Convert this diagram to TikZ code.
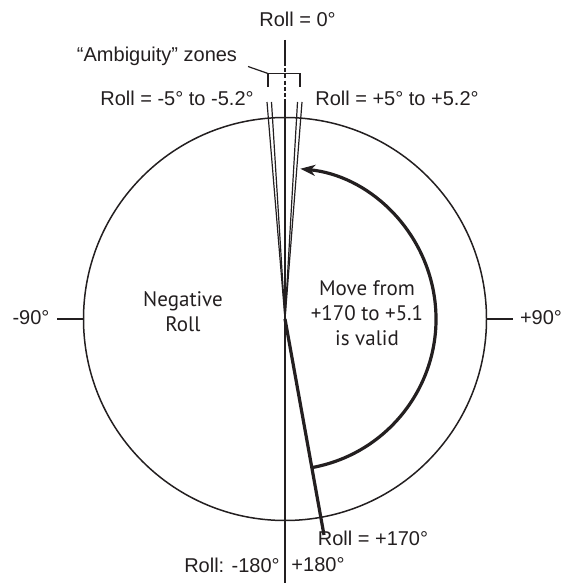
\documentclass[tikz,border=0pt]{standalone}
\usepackage{fontspec}
\setmainfont{Liberation Sans}
\newfontfamily\myriad{PT Sans}
\usetikzlibrary{arrows.meta,calc}
\definecolor{ink}{HTML}{231F20}
\begin{document}
\begin{tikzpicture}[x=0.5pt,y=-0.5pt,
  lbl/.style={font=\fontsize{10}{12}\selectfont, text=ink, inner sep=0pt},
  mlbl/.style={font=\myriad\fontsize{10.5}{12.5}\selectfont, text=ink, inner sep=0pt, align=center},
  thinline/.style={draw=ink, line width=0.6pt},
  thickline/.style={draw=ink, line width=1.6pt},
  ring/.style={draw=ink, line width=0.75pt}]
\useasboundingbox (0,0) rectangle (563,583);
% key points
\coordinate (C) at (285,319);
\coordinate (topA) at (285,40);
\coordinate (dashA) at (285,62);
\coordinate (dashB) at (285,100);
\coordinate (bot) at (285,583);
\coordinate (l52) at (267,102);
\coordinate (l5) at (271.5,102);
\coordinate (r5) at (297.5,102);
\coordinate (r52) at (302,102);
\coordinate (p170) at (324,535);
\coordinate (Lc) at (83.5,319);
\coordinate (Lt) at (57,319);
\coordinate (Rc) at (486,319);
\coordinate (Rt) at (513,319);
\coordinate (bl) at (268,87);
\coordinate (blt) at (268,73.5);
\coordinate (brt) at (300,73.5);
\coordinate (br) at (300,87);
\coordinate (lead) at (248,66.5);
\coordinate (arcS) at ($(C)+(79.8:151)$);
% circle
\draw[ring] (C) circle[radius=201.5];
% vertical 0/180 line
\draw[thinline] (topA) -- (dashA);
\draw[thinline, dash pattern=on 2pt off 1.1pt] (dashA) -- (dashB);
\draw[thinline] (dashB) -- (bot);
% ambiguity lines
\draw[thinline] (C) -- (l52);
\draw[thinline] (C) -- (l5);
\draw[thinline] (C) -- (r5);
\draw[thinline] (C) -- (r52);
% bracket and leader
\draw[thinline] (bl) -- (blt) -- (brt) -- (br);
\draw[thinline] (lead) -- (blt);
% +/-90 ticks
\draw[thinline] (Lt) -- (Lc);
\draw[thinline] (Rc) -- (Rt);
% +170 line
\draw[thickline] (C) -- (p170);
% arc arrow
\draw[thickline, -{Stealth[length=7.5pt,width=5.5pt,inset=2.2pt]}]
  (arcS) arc[start angle=79.8, end angle=-84.2, radius=151];
% labels
\node[lbl] (r0) at (297.5,19) {Roll = 0°};
\node[lbl] (amb) at (157,56) {“Ambiguity” zones};
\node[lbl] (rm5) at (177,98) {Roll = -5° to -5.2°};
\node[lbl] (rp5) at (397,98) {Roll = +5° to +5.2°};
\node[lbl] (m90) at (31,318) {-90°};
\node[lbl] (p90) at (541,318) {+90°};
\node[lbl] (r170) at (373,538) {Roll = +170°};
\node[lbl] (m180) at (232,565) {Roll: -180°};
\node[lbl] (p180) at (318,565) {+180°};
\node[mlbl] (neg) at (183,312) {Negative\\Roll};
\node[mlbl] (move) at (367,313) {Move from\\+170 to +5.1\\is valid};
\end{tikzpicture}
\end{document}
